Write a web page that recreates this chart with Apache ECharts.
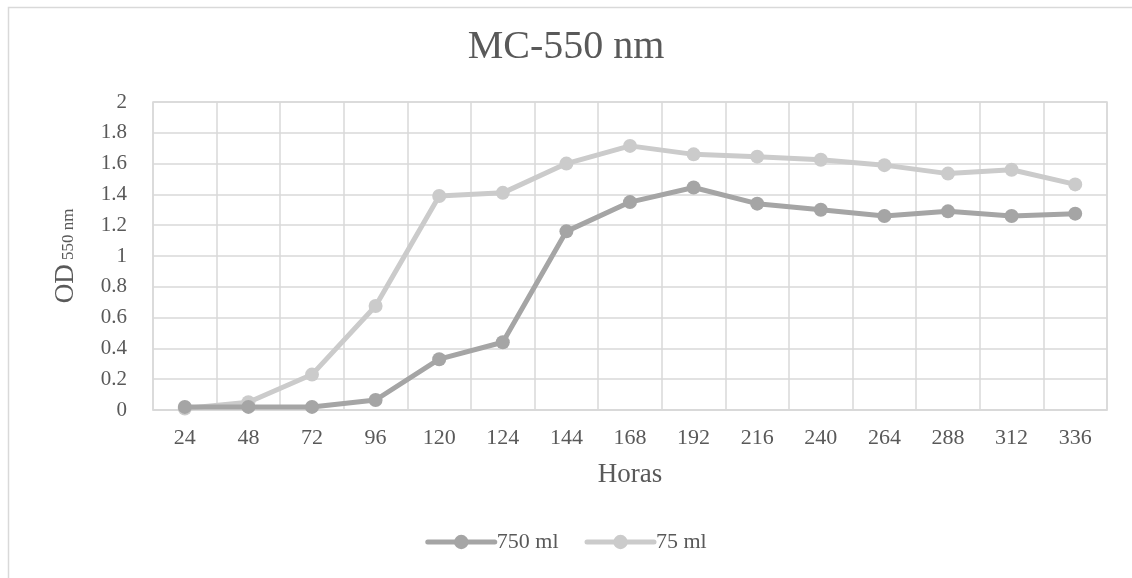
<!DOCTYPE html>
<html><head><meta charset="utf-8">
<script src="https://cdn.jsdelivr.net/npm/echarts@6/dist/echarts.min.js"></script>
<style>html,body{margin:0;padding:0;background:#fff}#c{width:1132px;height:578px}</style>
</head><body><div id="c"></div>
<script>
const categories = ['24','48','72','96','120','124','144','168','192','216','240','264','288','312','336'];
const s750 = [0.02, 0.02, 0.02, 0.065, 0.33, 0.44, 1.16, 1.35, 1.445, 1.34, 1.30, 1.26, 1.29, 1.26, 1.275];
const s75 = [0.01, 0.05, 0.23, 0.675, 1.39, 1.41, 1.60, 1.715, 1.66, 1.645, 1.625, 1.59, 1.535, 1.56, 1.465];
const seriesNames = ['750 ml', '75 ml'];
const yTicks = {min: 0, max: 2, interval: 0.2};

const font = 'Liberation Serif';
const txt = '#595959';
const chart = echarts.init(document.getElementById('c'));
chart.setOption({
  animation: false,
  graphic: [{type: 'rect', shape: {x: 8.5, y: 7.5, width: 1140, height: 600}, style: {fill: 'none', stroke: '#d9d9d9', lineWidth: 1.5}, z: -10}],
  title: {text: 'MC-550 nm', left: 'center', top: 22, textStyle: {fontFamily: font, fontSize: 40, fontWeight: 'normal', color: txt}},
  legend: {
    top: 526, left: 'center', itemWidth: 67, itemHeight: 18, itemGap: 26,
    lineStyle: {width: 5, cap: 'round'},
    textStyle: {fontFamily: font, fontSize: 22, color: txt, padding: [0, 0, 0, -3]},
    data: seriesNames
  },
  grid: {left: 153, right: 25, top: 102, bottom: 168, show: true, borderColor: '#d9d9d9', borderWidth: 1.5},
  xAxis: {
    type: 'category', data: categories, boundaryGap: true,
    name: 'Horas', nameLocation: 'middle', nameGap: 51,
    nameTextStyle: {fontFamily: font, fontSize: 27, color: txt},
    axisLine: {lineStyle: {color: '#d9d9d9', width: 1.5}},
    axisTick: {show: false},
    axisLabel: {fontFamily: font, fontSize: 22, color: txt, margin: 17, interval: 0},
    splitLine: {show: true, interval: 0, lineStyle: {color: '#d9d9d9', width: 1.5}}
  },
  yAxis: {
    type: 'value', min: yTicks.min, max: yTicks.max, interval: yTicks.interval,
    name: '{a|OD}{b| 550 nm}', nameLocation: 'middle', nameGap: 74, nameRotate: 90,
    nameTextStyle: {rich: {a: {fontFamily: font, fontSize: 27, color: txt}, b: {fontFamily: font, fontSize: 17, color: txt, padding: [7, 0, 0, 0]}}},
    axisLine: {show: false}, axisTick: {show: false},
    axisLabel: {fontFamily: font, fontSize: 21, color: txt, margin: 26},
    splitLine: {lineStyle: {color: '#d9d9d9', width: 1.5}}
  },
  series: [
    {name: seriesNames[0], type: 'line', data: s750, symbol: 'circle', symbolSize: 14, lineStyle: {width: 5, color: '#a5a5a5'}, itemStyle: {color: '#a5a5a5'}, z: 3},
    {name: seriesNames[1], type: 'line', data: s75, symbol: 'circle', symbolSize: 14, lineStyle: {width: 5, color: '#cbcbcb'}, itemStyle: {color: '#cbcbcb'}, z: 2}
  ]
});
</script></body></html>
